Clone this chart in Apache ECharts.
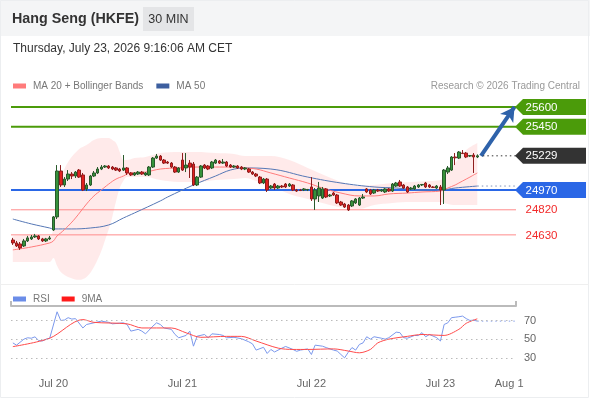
<!DOCTYPE html>
<html><head><meta charset="utf-8">
<script src="https://cdn.jsdelivr.net/npm/echarts@6/dist/echarts.min.js"></script>
<style>html,body{margin:0;padding:0;background:#fff}#c{width:590px;height:400px}</style>
</head><body><div id="c"></div>
<script>
const FONT = '"Liberation Sans", Arial, sans-serif';
// x slots (30-min bars); date labels at these slot indices
const slotCount = 137;
const tickIndex = [11, 46, 81, 116, 136];
const tickLabels = ['Jul 20', 'Jul 21', 'Jul 22', 'Jul 23', 'Aug 1'];

// candles: [open, close, low, high]
const candles = [
[24591,24569,24554,24607],[24569,24546,24538,24584],[24561,24531,24516,24576],[24546,24584,24538,24599],
[24584,24607,24576,24622],[24599,24614,24591,24629],[24614,24622,24607,24637],[24622,24599,24591,24629],
[24599,24584,24576,24607],[24584,24599,24576,24607],[24599,24607,24591,24622],[24667,24766,24660,24773],
[24766,25114,24750,25159],[25114,25008,24993,25159],[25008,25053,24993,25068],[25053,25091,25038,25121],
[25091,25076,25053,25106],[25076,25106,25061,25114],[25121,25068,25061,25129],[25084,24970,24962,25099],
[24978,25008,24962,25023],[25008,25076,25000,25084],[25076,25099,25068,25114],[25099,25129,25091,25144],
[25129,25144,25121,25159],[25144,25152,25137,25159],[25152,25137,25129,25159],[25144,25129,25121,25152],
[25137,25121,25114,25144],[25129,25114,25106,25137],[25121,25137,25114,25235],[25137,25099,25084,25144],
[25099,25084,25076,25106],[25084,25099,25076,25106],[25091,25106,25084,25114],[25106,25091,25084,25114],
[25084,25099,25076,25106],[25084,25144,25076,25152],[25144,25212,25137,25220],[25212,25227,25205,25243],
[25227,25197,25190,25235],[25197,25174,25167,25205],[25182,25174,25167,25190],[25174,25144,25137,25182],
[25144,25106,25099,25152],[25106,25137,25099,25144],[25197,25121,25114,25250],[25137,25159,25106,25250],
[25174,25144,25061,25197],[25167,25008,25000,25182],[25008,25068,25000,25076],[25068,25152,25061,25159],
[25159,25137,25129,25167],[25152,25129,25121,25159],[25137,25182,25129,25190],[25174,25197,25167,25205],
[25190,25174,25167,25197],[25174,25182,25167,25205],[25182,25152,25144,25190],[25159,25144,25137,25167],
[25144,25152,25137,25159],[25152,25137,25129,25159],[25144,25129,25121,25152],[25129,25137,25121,25144],
[25129,25106,25099,25137],[25106,25091,25084,25114],[25091,25076,25068,25099],[25068,25023,25015,25076],
[25023,25053,25015,25061],[25053,24970,24955,25061],[24985,25000,24978,25008],[25015,24985,24970,25023],
[24985,25000,24978,25008],[25000,24993,24985,25008],[25015,24993,24985,25023],[25000,25015,24993,25023],
[25008,24970,24962,25015],[24970,24962,24955,24978],[24970,24966,24962,24978],[24970,24978,24962,24985],
[24970,24974,24962,24978],[24993,24902,24887,25068],[24902,24970,24819,24985],[24925,24985,24879,25031],
[24909,24978,24902,24993],[24978,24917,24909,24985],[24925,24932,24917,24940],[24947,24932,24925,24955],
[24932,24872,24864,24940],[24879,24856,24849,24887],[24864,24841,24834,24872],[24856,24819,24811,24864],
[24849,24887,24841,24894],[24872,24902,24864,24909],[24856,24909,24849,24917],[24909,24917,24902,24940],
[24978,24955,24947,24985],[24970,24940,24932,24978],[24947,24970,24940,24978],[24970,24962,24955,24978],
[24962,24970,24955,24978],[24955,24978,24947,24985],[24978,24962,24955,24985],[24962,25015,24955,25023],
[25000,25023,24993,25031],[25031,25000,24993,25046],[25008,24985,24978,25015],[24993,24955,24947,25000],
[24978,24985,24970,24993],[24978,25000,24970,25008],[24993,25008,24985,25015],[25008,25012,25000,25015],
[25023,24993,24985,25031],[25008,24993,24985,25015],[24993,24989,24985,25000],[24985,25000,24978,25008],
[24993,24970,24856,25008],[24970,25121,24864,25129],[25106,25137,25091,25152],[25121,25220,25114,25227],
[25220,25214,25159,25250],[25212,25258,25205,25265],[25250,25246,25243,25273],[25250,25220,25212,25258],
[25227,25231,25220,25235],[25235,25220,25099,25250],[25220,25229,25212,25240]
];

// MA 20 (read at bar indices)
const ma20Idx = [0,5,10,11,12,13,15,17,20,22,24,26,28,30,31,32,36,40,45,50,60,63,66,70,75,80,84,89,94,98,102,107,111,116,118,120,121,123,124,126];
const ma20Val = [24516,24538,24569,24584,24622,24645,24697,24758,24864,24925,24970,25015,25053,25076,25091,25099,25106,25129,25137,25144,25144,25137,25129,25099,25061,25023,24985,24947,24925,24925,24940,24947,24955,24962,24985,25008,25023,25053,25068,25099];

// Bollinger bands (read at bar indices)
const bbIdx = [0,5,10,11,12,13,15,18,20,22,24,25,26,27,28,29,30,31,33,36,40,45,50,55,60,63,66,70,75,80,85,90,94,98,103,108,113,116,118,120,123,126];
const bbUpper = [24622,24629,24622,24682,24970,25061,25182,25280,25311,25349,25364,25364,25364,25349,25326,25258,25197,25197,25212,25220,25250,25258,25258,25250,25243,25227,25227,25227,25197,25137,25076,25023,25000,25008,25023,25031,25038,25046,25106,25174,25273,25326];
const bbLower = [24425,24425,24425,24455,24395,24349,24311,24289,24311,24387,24508,24590,24670,24770,24885,24985,25040,25068,25068,25068,25046,25031,25031,25046,25053,25061,25038,25000,24940,24902,24864,24834,24826,24856,24872,24879,24879,24879,24864,24856,24856,24856];

// MA 50 (read at bar indices)
const ma50Idx = [0,5,10,11,16,21,26,30,33,40,42,49,55,59,63,70,80,89,98,104,111,116,120,126];
const ma50Val = [24750,24713,24682,24675,24675,24682,24705,24758,24796,24887,24917,25008,25076,25121,25137,25129,25068,25023,24993,24985,24970,24970,24985,25000];

// RSI and its 9MA (read at bar indices)
const rsiIdx = [0,1,3,4,5,6,7,8,9,10,12,13,14,15,16,17,19,20,22,24,26,27,30,31,32,34,35,36,38,39,40,41,43,44,45,47,48,49,50,52,53,54,56,57,58,60,62,64,65,66,68,69,70,71,73,74,76,77,78,80,81,82,84,85,87,88,89,90,91,92,93,94,95,96,97,98,100,101,102,104,105,106,107,109,110,111,112,113,115,116,117,118,119,120,121,122,123,124,125,126];
const rsiVal = [46,43.6,50,51.5,51,52.5,48.6,48,50,51,79.3,70,70.5,73,71.5,72,62,65.7,67.5,69.3,68,66.4,67.5,65.7,58.6,60.5,58.6,55.7,64,67.5,65.7,62,60.5,55,51.5,54,58.6,42.5,53.2,55,51.5,55.7,55,54,51.5,52,50.5,47.2,45,38.3,41.3,34.7,39,36.3,40.4,42.2,39,37,38.3,39.6,33.6,43.6,42.5,41,38.3,37.3,33.6,30,36,41,38.3,44.3,46,52.6,50,52.6,51,50,51.6,57.5,57,51.6,51,54,53.8,57,52.6,55,51.6,48,65.7,67.5,73,73.5,74,74.7,72,70,70.4,69.3];
const rsiMaIdx = [0,10,19,22,31,35,43,47,51,58,62,66,72,76,80,87,91,94,97,99,102,107,111,117,121,123,126];
const rsiMaVal = [42,51,71,68,66.4,62,62,56.8,52,53,53,48,40.4,39,39,39.6,37.3,35.4,39,46,50,53,55,54,60.5,67,71.8];
const rsiLevels = [30, 50, 70];

// price levels
const lineLevels = [25600, 25450, 24970, 24820, 24630];
const labelLevels = [25600, 25450, 25229, 24970, 24820, 24630];
const labelTexts = ['25600', '25450', '25229', '24970', '24820', '24630'];
const lastClose = 25229;
const arrowTarget = 25600;
const ma50Last = 25000;
const rsiLast = 69.3;

// styles
const lineLevelStyles = [
  {color:'#4b9b0a', width:2},
  {color:'#4b9b0a', width:2},
  {color:'#2a67e6', width:2},
  {color:'#ff8c8c', width:1},
  {color:'#ff8c8c', width:1}
];
const labelStyles = [
  {box:'#4b9b0a', fg:'#ffffff'},
  {box:'#4b9b0a', fg:'#ffffff'},
  {box:'#333333', fg:'#ffffff'},
  {box:'#2a67e6', fg:'#ffffff'},
  {box:null, fg:'#f22a2a'},
  {box:null, fg:'#f22a2a'}
];

const categories = Array.from({length: slotCount}, (_, i) => String(i));
const labelOf = {};
tickIndex.forEach((t, k) => { labelOf[t] = tickLabels[k]; });
const pairs = (xs, ys) => xs.map((x, i) => [x, ys[i]]);
const bbWidth = bbUpper.map((u, i) => u - bbLower[i]);

const levelSeries = lineLevels.map((v, i) => ({
  name:'level' + v, type:'line', xAxisIndex:1, yAxisIndex:0, silent:true, z:2,
  data:[[-0.5, v], [slotCount - 0.5, v]], symbol:'none',
  color: lineLevelStyles[i].color,
  lineStyle:{color:lineLevelStyles[i].color, width:lineLevelStyles[i].width, type:'solid'}
}));

const chart = echarts.init(document.getElementById('c'), null, {renderer:'canvas'});
chart.setOption({
  animation: false,
  textStyle: {fontFamily: FONT},
  graphic: [
    {type:'rect', z:0, shape:{x:0, y:0, width:590, height:36}, style:{fill:'#f4f5f6'}},
    {type:'rect', z:0, shape:{x:0.5, y:0.5, width:588, height:397}, style:{fill:'transparent', stroke:'#eceef0', lineWidth:1}},
    {type:'line', z:0, shape:{x1:0, y1:284.5, x2:589, y2:284.5}, style:{stroke:'#efefef', lineWidth:1}},
    {type:'text', z:1, x:12, y:19.5, style:{text:'Hang Seng (HKFE)', font:'bold 14.3px ' + FONT, fill:'#333', align:'left', verticalAlign:'middle', textAlign:'left', textVerticalAlign:'middle'}},
    {type:'rect', z:1, shape:{x:143, y:7, width:51, height:24}, style:{fill:'#e4e5e7'}},
    {type:'text', z:2, x:168.5, y:19.5, style:{text:'30 MIN', font:'12.5px ' + FONT, fill:'#333', align:'center', verticalAlign:'middle', textAlign:'center', textVerticalAlign:'middle'}},
    {type:'text', z:1, x:13, y:48.5, style:{text:'Thursday, July 23, 2026 9:16:06 AM CET', font:'12px ' + FONT, fill:'#333', align:'left', verticalAlign:'middle', textAlign:'left', textVerticalAlign:'middle'}},
    {type:'text', z:1, x:580, y:86.5, style:{text:'Research \u00a9 2026 Trading Central', font:'10px ' + FONT, fill:'#999', align:'right', verticalAlign:'middle', textAlign:'right', textVerticalAlign:'middle'}}
  ],
  legend: [
    {left:13, top:81, padding:0, icon:'rect', itemWidth:13, itemHeight:5, itemGap:13, selectedMode:false,
     data:['MA 20 + Bollinger Bands', 'MA 50'], textStyle:{color:'#777', fontSize:10, padding:[0,0,0,2]}},
    {left:13, top:294, padding:0, icon:'rect', itemWidth:13, itemHeight:5, itemGap:12, selectedMode:false,
     data:['RSI', '9MA'], textStyle:{color:'#777', fontSize:10, padding:[0,0,0,2]}}
  ],
  grid: [
    {left:11, right:74, top:95, height:190, containLabel:false, outerBoundsMode:'none'},
    {left:11, right:74, top:306, height:64, containLabel:false, outerBoundsMode:'none'}
  ],
  xAxis: [
    {type:'category', gridIndex:0, data:categories, boundaryGap:true, show:false},
    {type:'value', gridIndex:0, min:-0.5, max:slotCount - 0.5, show:false},
    {type:'category', gridIndex:1, data:categories, boundaryGap:true,
     axisLine:{show:false}, axisTick:{show:false}, splitLine:{show:false},
     axisLabel:{show:true, margin:8, color:'#666', fontSize:11,
       interval:(index) => labelOf[index] !== undefined,
       formatter:(value, index) => {
         const t = labelOf[index] || '';
         return index === tickIndex[tickIndex.length - 1] ? '{e|' + t + '}' : t;
       },
       rich:{e:{color:'#666', fontSize:11, padding:[0,10,0,0]}}}},
    {type:'value', gridIndex:1, min:-0.5, max:slotCount - 0.5, interval:slotCount,
     axisLine:{show:true, lineStyle:{color:'#bbbbbb', width:2}},
     axisTick:{show:true, length:5, lineStyle:{color:'#bbbbbb', width:2}},
     axisLabel:{show:false}, splitLine:{show:false}}
  ],
  yAxis: [
    {type:'value', gridIndex:0, min:24250, max:25690, show:false},
    {type:'value', gridIndex:1, min:17, max:85.5, position:'right',
     axisLine:{show:false}, axisTick:{show:false}, splitLine:{show:false},
     axisLabel:{show:true, customValues:rsiLevels, margin:8, color:'#666', fontSize:11}}
  ],
  series: [
    {name:'bbLower', type:'line', xAxisIndex:0, yAxisIndex:0, stack:'bb', data:pairs(bbIdx, bbLower),
     smooth:0.35, symbol:'none', lineStyle:{opacity:0}, silent:true, z:1},
    {name:'bbWidth', type:'line', xAxisIndex:0, yAxisIndex:0, stack:'bb', data:pairs(bbIdx, bbWidth),
     smooth:0.35, symbol:'none', lineStyle:{opacity:0}, areaStyle:{color:'rgba(255,90,90,0.18)'}, silent:true, z:1},
    ...levelSeries,
    {name:'MA 50', type:'line', xAxisIndex:0, yAxisIndex:0, data:pairs(ma50Idx, ma50Val),
     smooth:0.4, symbol:'none', color:'#3d5f9f', lineStyle:{color:'#5577b5', width:1}, silent:true, z:3},
    {name:'MA 20 + Bollinger Bands', type:'line', xAxisIndex:0, yAxisIndex:0, data:pairs(ma20Idx, ma20Val),
     smooth:0.4, symbol:'none', color:'#ff7b7b', lineStyle:{color:'#ff7b7b', width:1}, silent:true, z:3},
    {name:'price', type:'candlestick', xAxisIndex:0, yAxisIndex:0, data:candles, barWidth:3, silent:true, z:4,
     itemStyle:{color:'#36923a', color0:'#e3201f', borderColor:'#2a5a2c', borderColor0:'#8f1e1e', borderWidth:1}},
    {name:'ma50ext', type:'line', xAxisIndex:1, yAxisIndex:0, data:[[126, ma50Last], [slotCount - 0.5, ma50Last]],
     symbol:'none', lineStyle:{color:'#7c8fb8', width:1, type:[1.5,3]}, silent:true, z:3},
    {name:'closeext', type:'line', xAxisIndex:1, yAxisIndex:0, data:[[127.5, lastClose], [slotCount - 0.5, lastClose]],
     symbol:'none', lineStyle:{color:'#333', width:1, type:[1.5,3]}, silent:true, z:5,
     markLine:{silent:true, symbol:['none','arrow'], symbolSize:[12,14], label:{show:false},
       lineStyle:{color:'#2e62aa', width:4, type:'solid'},
       data:[[{coord:[127, lastClose]}, {coord:[136.1, arrowTarget]}]]}},
    {name:'labels', type:'custom', xAxisIndex:1, yAxisIndex:0, clip:false, silent:true, z:6,
     data: labelLevels.map(v => [slotCount - 0.5, v]),
     renderItem: (params, api) => {
       const p = api.coord([api.value(0), api.value(1)]);
       const st = labelStyles[params.dataIndex];
       const x = p[0], y = p[1], h = 8;
       const children = [];
       if (st.box) {
         children.push({type:'polygon', shape:{points:[[x - 1, y], [x + 7, y - h], [x + 70, y - h], [x + 70, y + h], [x + 7, y + h]]}, style:{fill:st.box}});
       }
       children.push({type:'text', style:{text:labelTexts[params.dataIndex], x:x + 9.5, y:y + 0.5, fill:st.fg,
         font:'11.5px ' + FONT, align:'left', verticalAlign:'middle'}});
       return {type:'group', children};
     }},
    {name:'RSI', type:'line', xAxisIndex:2, yAxisIndex:1, data:pairs(rsiIdx, rsiVal),
     symbol:'none', color:'#6b8de8', lineStyle:{color:'#7b98ec', width:1}, silent:true, z:3,
     markLine:{silent:true, symbol:['none','none'], label:{show:false},
       lineStyle:{color:'#bbbbbb', width:1, type:[1.5,3.5]},
       data: rsiLevels.map(v => ({yAxis:v}))}},
    {name:'9MA', type:'line', xAxisIndex:2, yAxisIndex:1, data:pairs(rsiMaIdx, rsiMaVal),
     smooth:0.3, symbol:'none', color:'#ff1a1a', lineStyle:{color:'#ff4a4a', width:1}, silent:true, z:4},
    {name:'rsiext', type:'line', xAxisIndex:3, yAxisIndex:1, data:[[126, rsiLast], [slotCount - 0.5, rsiLast]],
     symbol:'none', lineStyle:{color:'#8aa2ea', width:1, type:[1.5,3]}, silent:true, z:3}
  ]
});
</script>
</body></html>
